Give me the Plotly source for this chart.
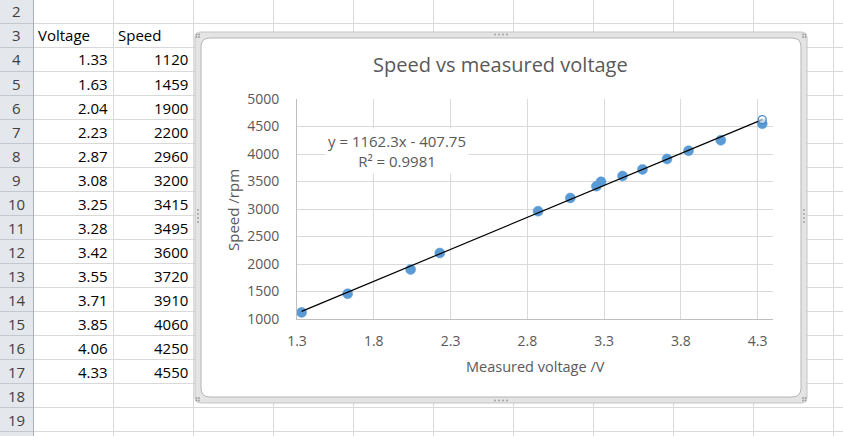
import plotly.graph_objects as go

# ---- data ----
voltage = [1.33, 1.63, 2.04, 2.23, 2.87, 3.08, 3.25, 3.28, 3.42, 3.55, 3.71, 3.85, 4.06, 4.33]
speed = [1120, 1459, 1900, 2200, 2960, 3200, 3415, 3495, 3600, 3720, 3910, 4060, 4250, 4550]
row_numbers = list(range(2, 20))
col_headers = ["Voltage", "Speed"]
trend_slope = 1162.3
trend_intercept = -407.75
trend_r2 = 0.9981
x_ticks = [1.3, 1.8, 2.3, 2.8, 3.3, 3.8, 4.3]
y_ticks = [1000, 1500, 2000, 2500, 3000, 3500, 4000, 4500, 5000]

W, H = 843, 436
FONT = "Open Sans"
GRAY = "#595959"


def fx(x):
    return x / W


def fy(y):
    return 1 - y / H


def rrect_path(x0, y0, x1, y1, r):
    pts = [
        ("M", [(x0 + r, y0)]), ("L", [(x1 - r, y0)]), ("Q", [(x1, y0), (x1, y0 + r)]),
        ("L", [(x1, y1 - r)]), ("Q", [(x1, y1), (x1 - r, y1)]), ("L", [(x0 + r, y1)]),
        ("Q", [(x0, y1), (x0, y1 - r)]), ("L", [(x0, y0 + r)]), ("Q", [(x0, y0), (x0 + r, y0)]),
    ]
    s = ""
    for cmd, ps in pts:
        s += cmd + " " + " ".join(f"{fx(a):.5f},{fy(b):.5f}" for a, b in ps) + " "
    return s + "Z"


shapes = []
# row header column
shapes.append(dict(type="rect", xref="paper", yref="paper", x0=0, x1=fx(33), y0=0, y1=1,
                   fillcolor="#e4e7ec", line=dict(width=0), layer="below"))
row_top = 23.5
row_h = 24
for k in range(len(row_numbers)):
    yb = row_top + row_h * k
    shapes.append(dict(type="line", xref="paper", yref="paper", x0=0, x1=fx(33), y0=fy(yb), y1=fy(yb),
                       line=dict(color="#c3c8cf", width=1), layer="below"))
    shapes.append(dict(type="line", xref="paper", yref="paper", x0=fx(33), x1=1, y0=fy(yb), y1=fy(yb),
                       line=dict(color="#d9d9d9", width=1), layer="below"))
shapes.append(dict(type="line", xref="paper", yref="paper", x0=fx(33.5), x1=fx(33.5), y0=0, y1=1,
                   line=dict(color="#a8afb8", width=1), layer="below"))
for cx in range(113, 843, 80):
    shapes.append(dict(type="line", xref="paper", yref="paper", x0=fx(cx + 0.5), x1=fx(cx + 0.5), y0=0, y1=1,
                       line=dict(color="#d9d9d9", width=1), layer="below"))

# chart frame (selected chart)
shapes.append(dict(type="path", xref="paper", yref="paper", path=rrect_path(195, 32, 807, 403, 6),
                   fillcolor="#e4e4e4", line=dict(color="#c4c4c4", width=1), layer="below"))
shapes.append(dict(type="path", xref="paper", yref="paper", path=rrect_path(201, 38, 801, 397, 9),
                   fillcolor="#ffffff", line=dict(color="#b5b5b5", width=1), layer="below"))
# grip dots
dots = [(196.5, 34.5), (199, 34.5), (196.5, 37), (199, 37),
        (803, 34.5), (805.5, 34.5), (803, 37), (805.5, 37),
        (196.5, 398), (199, 398), (196.5, 400.5), (199, 400.5),
        (803, 398), (805.5, 398), (803, 400.5), (805.5, 400.5),
        (495, 34.5), (499, 34.5), (503, 34.5), (507, 34.5),
        (495, 400.5), (499, 400.5), (503, 400.5), (507, 400.5),
        (804, 210), (804, 214), (804, 218), (804, 222),
        (198, 210), (198, 214), (198, 218), (198, 222)]
for dx, dy in dots:
    shapes.append(dict(type="circle", xref="paper", yref="paper",
                       x0=fx(dx - 0.9), x1=fx(dx + 0.9), y0=fy(dy + 0.9), y1=fy(dy - 0.9),
                       fillcolor="#9c9c9c", line=dict(width=0), layer="below"))

annotations = []
cell_font = dict(family=FONT, size=15, color="#000000")
for i, rn in enumerate(row_numbers):
    yc = row_top + row_h * (i - 1) + row_h / 2
    annotations.append(dict(xref="paper", yref="paper", x=fx(16.5), y=fy(yc), text=str(rn),
                            showarrow=False, xanchor="center", yanchor="middle",
                            font=dict(family=FONT, size=15, color="#3f3f3f")))
yc3 = row_top + row_h / 2
annotations.append(dict(xref="paper", yref="paper", x=fx(36), y=fy(yc3), text=col_headers[0],
                        showarrow=False, xanchor="left", yanchor="middle", font=cell_font))
annotations.append(dict(xref="paper", yref="paper", x=fx(116), y=fy(yc3), text=col_headers[1],
                        showarrow=False, xanchor="left", yanchor="middle", font=cell_font))
for i, (v, s) in enumerate(zip(voltage, speed)):
    yc = row_top + row_h * (i + 1) + row_h / 2
    annotations.append(dict(xref="paper", yref="paper", x=fx(110), y=fy(yc), text=f"{v:.2f}",
                            showarrow=False, xanchor="right", yanchor="middle", font=cell_font))
    annotations.append(dict(xref="paper", yref="paper", x=fx(190), y=fy(yc), text=str(s),
                            showarrow=False, xanchor="right", yanchor="middle", font=cell_font))

# chart texts
annotations.append(dict(xref="paper", yref="paper", x=fx(500), y=fy(65), text="Speed vs measured voltage",
                        showarrow=False, xanchor="center", yanchor="middle",
                        font=dict(family=FONT, size=20, color=GRAY)))
annotations.append(dict(xref="paper", yref="paper", x=fx(535), y=fy(366), text="Measured voltage /V",
                        showarrow=False, xanchor="center", yanchor="middle",
                        font=dict(family=FONT, size=14.5, color=GRAY)))
annotations.append(dict(xref="paper", yref="paper", x=fx(233), y=fy(210), text="Speed /rpm", textangle=-90,
                        showarrow=False, xanchor="center", yanchor="middle",
                        font=dict(family=FONT, size=15, color=GRAY)))
sign = "-" if trend_intercept < 0 else "+"
eq_text = f"y = {trend_slope}x {sign} {abs(trend_intercept)}<br>R² = {trend_r2}"
annotations.append(dict(xref="paper", yref="paper", x=fx(397), y=fy(151), text=eq_text,
                        showarrow=False, xanchor="center", yanchor="middle", bgcolor="#ffffff",
                        borderpad=2, font=dict(family=FONT, size=15, color=GRAY)))

fig = go.Figure()
fig.add_trace(go.Scatter(x=voltage, y=speed, mode="markers",
                         marker=dict(size=10, color="#5b9bd5", line=dict(color="#5b9bd5", width=0.5)),
                         showlegend=False, hoverinfo="skip"))
tx = [voltage[0], voltage[-1]]
ty = [trend_slope * v + trend_intercept for v in tx]
fig.add_trace(go.Scatter(x=tx, y=ty, mode="lines", line=dict(color="#000000", width=1.2),
                         showlegend=False, hoverinfo="skip"))
fig.add_trace(go.Scatter(x=[tx[-1]], y=[ty[-1]], mode="markers",
                         marker=dict(size=8, color="rgba(255,255,255,0.6)", line=dict(color="#4a89c8", width=1.3)),
                         showlegend=False, hoverinfo="skip"))

fig.update_layout(
    template="none",
    width=W, height=H, autosize=False,
    margin=dict(l=0, r=0, t=0, b=0, pad=0, autoexpand=False),
    paper_bgcolor="#ffffff", plot_bgcolor="rgba(0,0,0,0)",
    shapes=shapes, annotations=annotations, showlegend=False,
    xaxis=dict(domain=[fx(297), fx(773)], range=[1.3, 4.4], tickvals=x_ticks, automargin=False,
               ticktext=[f"{t:.1f}" for t in x_ticks], showgrid=True, gridcolor="#d9d9d9", gridwidth=1,
               showline=True, linecolor="#bfbfbf", linewidth=1, zeroline=False, ticks="",
               ticklabelstandoff=9, tickfont=dict(family=FONT, size=14, color=GRAY), fixedrange=True),
    yaxis=dict(domain=[fy(319), fy(99)], range=[1000, 5000], tickvals=y_ticks, automargin=False,
               ticktext=[str(t) for t in y_ticks], showgrid=True, gridcolor="#d9d9d9", gridwidth=1,
               showline=True, linecolor="#bfbfbf", linewidth=1, zeroline=False, ticks="",
               ticklabelstandoff=14, tickfont=dict(family=FONT, size=14, color=GRAY), fixedrange=True),
)

fig.write_html("out.html", config={"displayModeBar": False},
               post_script="document.body.style.margin='0px';document.body.style.overflow='hidden';")
